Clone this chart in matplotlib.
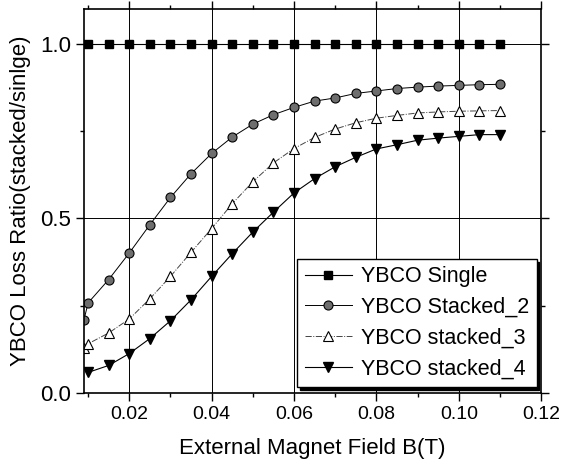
import matplotlib
matplotlib.use("Agg")
import matplotlib.pyplot as plt
from matplotlib.ticker import MultipleLocator

plt.rcParams['font.family'] = ['Liberation Sans', 'DejaVu Sans']

# field values (T)
x_single = [0.010, 0.015, 0.020, 0.025, 0.030, 0.035, 0.040, 0.045, 0.050, 0.055, 0.060,
            0.065, 0.070, 0.075, 0.080, 0.085, 0.090, 0.095, 0.100, 0.105, 0.110]
x_edge = [0.009] + x_single

y_single = [1.0] * 21
y_stacked2 = [0.210, 0.258, 0.325, 0.401, 0.482, 0.560, 0.628, 0.686, 0.733, 0.770, 0.797,
              0.818, 0.836, 0.845, 0.858, 0.865, 0.872, 0.876, 0.879, 0.881, 0.883, 0.884]
y_stacked3 = [0.129, 0.141, 0.172, 0.212, 0.270, 0.334, 0.403, 0.471, 0.542, 0.605, 0.659,
              0.700, 0.732, 0.756, 0.774, 0.787, 0.795, 0.802, 0.805, 0.807, 0.808, 0.809]
y_stacked4 = [0.059, 0.079, 0.113, 0.156, 0.207, 0.267, 0.334, 0.399, 0.461, 0.518, 0.573,
              0.614, 0.648, 0.675, 0.699, 0.711, 0.724, 0.730, 0.735, 0.740, 0.740]

fig = plt.figure(figsize=(5.69, 4.69), dpi=100)
ax = fig.add_axes([0.1476, 0.162, 0.8034, 0.819])

ax.plot(x_single, y_single, color='black', lw=0.8, marker='s', ms=6,
        mfc='black', mec='black', label='YBCO Single')
ax.plot(x_edge, y_stacked2, color='black', lw=0.7, marker='o', ms=6.5,
        mfc='#6e6e6e', mec='black', mew=0.8, label='YBCO Stacked_2')
ax.plot(x_edge, y_stacked3, color='#444444', lw=0.7, ls='-.', marker='^', ms=7,
        mfc='white', mec='black', mew=0.8, label='YBCO stacked_3')
ax.plot(x_single, y_stacked4, color='black', lw=0.8, marker='v', ms=7.5,
        mfc='black', mec='black', label='YBCO stacked_4')

ax.set_xlim(0.009, 0.12)
ax.set_ylim(0.0, 1.1)
ax.set_xticks([0.02, 0.04, 0.06, 0.08, 0.10, 0.12])
ax.set_xticklabels(['0.02', '0.04', '0.06', '0.08', '0.10', '0.12'])
ax.set_yticks([0.0, 0.5, 1.0])
ax.set_yticklabels(['0.0', '0.5', '1.0'])
ax.xaxis.set_minor_locator(MultipleLocator(0.01))
ax.yaxis.set_minor_locator(MultipleLocator(0.25))

ax.grid(True, which='major', color='black', lw=0.7)
ax.tick_params(which='both', direction='out', width=1, top=True, right=True)
ax.tick_params(axis='x', labelsize=14)
ax.tick_params(axis='y', labelsize=16)
ax.tick_params(which='major', length=6)
ax.tick_params(which='minor', length=3)
for s in ax.spines.values():
    s.set_linewidth(1.2)

ax.set_xlabel('External Magnet Field B(T)', fontsize=16, labelpad=11)
ax.set_ylabel('YBCO Loss Ratio(stacked/sinlge)', fontsize=16, labelpad=6)

leg = ax.legend(loc='lower right', bbox_to_anchor=(0.99, 0.016), borderaxespad=0,
                fontsize=15.5, fancybox=False, edgecolor='black', framealpha=1,
                shadow={'color': 'black', 'alpha': 1}, handlelength=2.2,
                labelspacing=0.45, handletextpad=0.4, borderpad=0.35)
leg.get_frame().set_linewidth(1.0)

fig.savefig('out.png', dpi=100)
